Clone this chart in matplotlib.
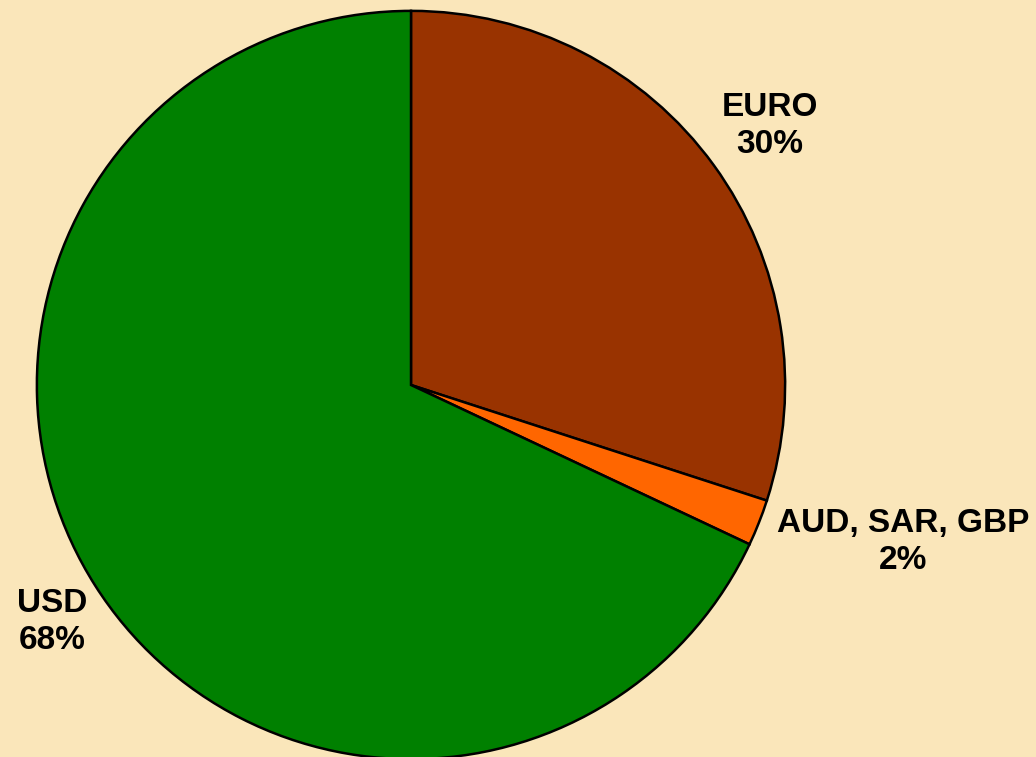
import matplotlib
matplotlib.use("Agg")
import matplotlib.pyplot as plt

# Currency shares
categories = ["EURO", "AUD, SAR, GBP", "USD"]
shares = [30, 2, 68]
colors = ["#993300", "#FF6600", "#008000"]

W, H, DPI = 1036, 757, 100
bg = "#FAE6BA"

fig = plt.figure(figsize=(W / DPI, H / DPI), dpi=DPI, facecolor=bg)
# square axes holding the pie (pixel geometry converted to figure fractions)
left, top, size = 35, 9, 752
ax = fig.add_axes([left / W, (H - top - size) / H, size / W, size / H])
ax.set_facecolor(bg)

ax.pie(shares, colors=colors, startangle=90, counterclock=False,
       radius=1.0, wedgeprops=dict(edgecolor="black", linewidth=1.8))
ax.set_xlim(-1.005, 1.005)
ax.set_ylim(-1.005, 1.005)
ax.set_aspect("equal")
ax.axis("off")

label_pos = {"EURO": (770, 126), "AUD, SAR, GBP": (903, 542), "USD": (52, 622)}
for name, val in zip(categories, shares):
    x, y = label_pos[name]
    fig.text(x / W, 1 - y / H, f"{name}\n{val}%", ha="center", va="center",
             fontsize=24, fontweight="bold", family="Liberation Sans",
             linespacing=1.25, color="black")

fig.savefig("out.png", dpi=DPI, facecolor=bg)
